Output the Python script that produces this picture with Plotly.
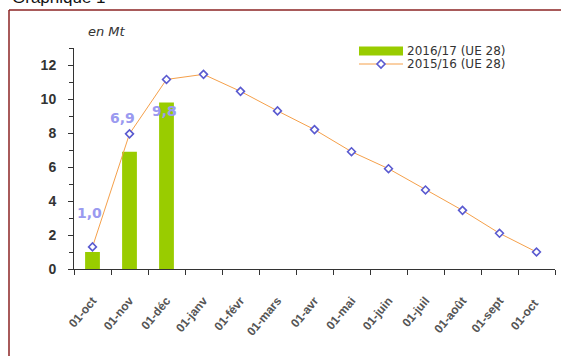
import plotly.graph_objects as go

# Monthly categories (day-month labels, French)
months = ["01-oct", "01-nov", "01-déc", "01-janv", "01-févr", "01-mars", "01-avr",
          "01-mai", "01-juin", "01-juil", "01-août", "01-sept", "01-oct "]

# Stocks in million tonnes
season_2016_17 = [1.0, 6.9, 9.8]
season_2015_16 = [1.3, 7.95, 11.15, 11.45, 10.45, 9.3, 8.2, 6.9, 5.9, 4.65, 3.45, 2.1, 1.0]

bar_labels = ["1,0", "6,9", "9,8"]
label_shifts = [(-3, 39), (-7, 34), (-2, -9)]

legend_names = ["2016/17 (UE 28)", "2015/16 (UE 28)"]

GREEN = "#99cc00"
ORANGE = "#f5a04a"
MARKER = "#5a5ad0"
LABEL = "#9a9af0"
FRAME = "#8b2323"

W, H = 561, 356
L, R, T, B = 74, 6, 48, 87
pw, ph = W - L - R, H - T - B


def px(x):
    return (x - L) / pw


def py(y):
    return (H - B - y) / ph


fig = go.Figure()

fig.add_trace(go.Bar(
    x=months[:len(season_2016_17)], y=season_2016_17,
    marker=dict(color=GREEN, line=dict(width=0)),
    width=0.4, name=legend_names[0], showlegend=False,
))

fig.add_trace(go.Scatter(
    x=months, y=season_2015_16, mode="lines+markers",
    line=dict(color=ORANGE, width=1),
    marker=dict(symbol="diamond", size=6, color="white",
                line=dict(color=MARKER, width=1.6)),
    name=legend_names[1], showlegend=False,
))

annotations = []
for m, v, t, (dx, dy) in zip(months, season_2016_17, bar_labels, label_shifts):
    annotations.append(dict(
        x=m, y=v, xref="x", yref="y", text=t, showarrow=False,
        xshift=dx, yshift=dy, yanchor="middle",
        font=dict(family="DejaVu Sans", size=14, color=LABEL, weight="bold"),
    ))

# unit caption
annotations.append(dict(
    x=px(107), y=py(31), xref="paper", yref="paper", text="<i>en Mt</i>",
    showarrow=False, xanchor="center", yanchor="middle",
    font=dict(family="DejaVu Sans", size=13, color="#333333"),
))

# chart heading above the frame
annotations.append(dict(
    x=px(10), y=py(-2), xref="paper", yref="paper", text="Graphique 1",
    showarrow=False, xanchor="left", yanchor="middle",
    font=dict(family="Liberation Sans", size=17, color="#111111"),
))

# legend entries
legend_rows = [51, 64]
for name, row in zip(legend_names, legend_rows):
    annotations.append(dict(
        x=px(405), y=py(row), xref="paper", yref="paper", text=name,
        showarrow=False, xanchor="left", yanchor="middle",
        font=dict(family="DejaVu Sans", size=12, color="#333333"),
    ))

r0, r1 = legend_rows
shapes = [
    # frame
    dict(type="line", xref="paper", yref="paper", x0=px(9), x1=px(9),
         y0=py(10), y1=py(H + 2), line=dict(color=FRAME, width=1.5)),
    dict(type="line", xref="paper", yref="paper", x0=px(9), x1=px(W + 2),
         y0=py(10), y1=py(10), line=dict(color=FRAME, width=1.5)),
    # legend swatches
    dict(type="rect", xref="paper", yref="paper", x0=px(359), x1=px(403),
         y0=py(r0 + 4.5), y1=py(r0 - 4.5), fillcolor=GREEN, line=dict(width=0)),
    dict(type="line", xref="paper", yref="paper", x0=px(359), x1=px(403),
         y0=py(r1), y1=py(r1), line=dict(color=ORANGE, width=1)),
    dict(type="path", xref="paper", yref="paper",
         path=f"M{px(381)},{py(r1 - 4)} L{px(385)},{py(r1)} L{px(381)},{py(r1 + 4)} "
              f"L{px(377)},{py(r1)} Z",
         fillcolor="white", line=dict(color=MARKER, width=1.6)),
]

fig.update_layout(
    width=W, height=H,
    margin=dict(l=L, r=R, t=T, b=B, pad=0),
    paper_bgcolor="white", plot_bgcolor="white",
    annotations=annotations, shapes=shapes,
    showlegend=False, bargap=0.6,
)

fig.update_xaxes(
    type="category", categoryorder="array", categoryarray=months,
    range=[-0.5, len(months) - 0.5],
    showline=True, linecolor="#333333", linewidth=1,
    ticks="outside", ticklen=5, tickcolor="#333333", tickson="boundaries",
    tickangle=-50, ticklabelstandoff=19,
    tickfont=dict(family="Liberation Sans", size=12, color="#555555", weight="bold"),
    showgrid=False, zeroline=False, fixedrange=True,
)

fig.update_yaxes(
    range=[0, 13], tickvals=[0, 2, 4, 6, 8, 10, 12],
    showline=True, linecolor="#333333", linewidth=1,
    ticks="outside", ticklen=5, tickcolor="#333333",
    minor=dict(dtick=1, ticks="outside", ticklen=4, tickcolor="#333333"),
    ticklabelstandoff=9,
    tickfont=dict(family="Liberation Sans", size=14, color="#333333", weight="bold"),
    showgrid=False, zeroline=False, fixedrange=True,
)

fig.write_html("out.html")
